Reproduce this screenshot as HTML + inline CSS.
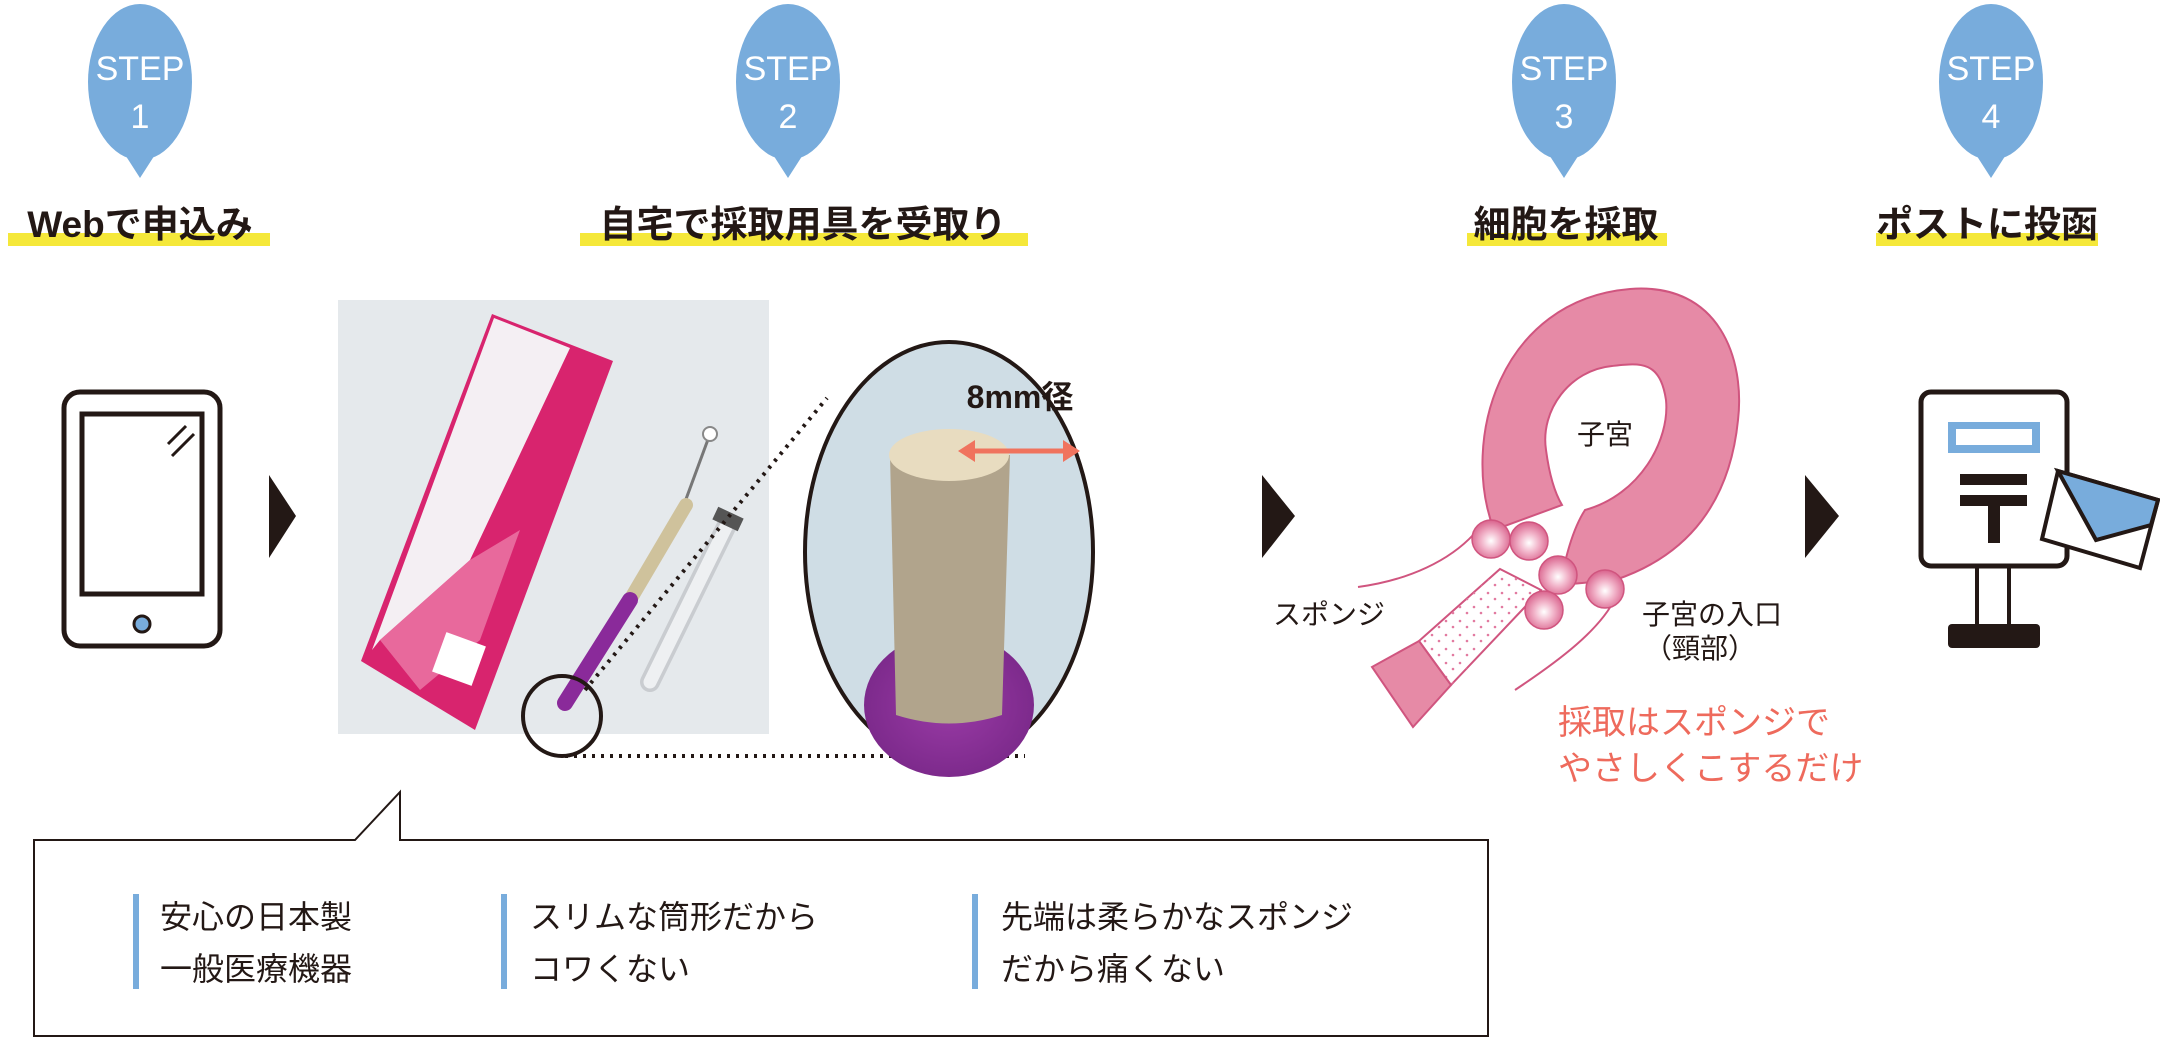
<!DOCTYPE html>
<html><head><meta charset="utf-8"><style>
html,body{margin:0;padding:0;background:#fff;}
svg{display:block;}
text{font-family:"Liberation Sans","Noto Sans CJK JP",sans-serif;}
</style></head><body>
<svg width="2160" height="1040" viewBox="0 0 2160 1040" xmlns="http://www.w3.org/2000/svg">
<defs>
<radialGradient id="ball" cx="50%" cy="55%" r="55%">
<stop offset="0" stop-color="#ffffff"/><stop offset="0.45" stop-color="#f2b6cb"/><stop offset="1" stop-color="#d9628c"/>
</radialGradient>
<radialGradient id="vio" cx="50%" cy="50%" r="50%">
<stop offset="0" stop-color="#9a3ba6"/><stop offset="1" stop-color="#7d2a8c"/>
</radialGradient>
<pattern id="dots" width="14" height="14" patternUnits="userSpaceOnUse"><circle cx="4" cy="5" r="1.3" fill="#e27aa0"/><circle cx="11" cy="11" r="1.3" fill="#e27aa0"/></pattern>
</defs>

<g fill="#78acdc">
<ellipse cx="140" cy="82" rx="52" ry="78"/><polygon points="122,150 158,150 140,178"/>
<ellipse cx="788" cy="82" rx="52" ry="78"/><polygon points="770,150 806,150 788,178"/>
<ellipse cx="1564" cy="82" rx="52" ry="78"/><polygon points="1546,150 1582,150 1564,178"/>
<ellipse cx="1991" cy="82" rx="52" ry="78"/><polygon points="1973,150 2009,150 1991,178"/>
</g>
<g fill="#fff" font-size="34" text-anchor="middle">
<text x="140" y="80">STEP</text><text x="140" y="128">1</text>
<text x="788" y="80">STEP</text><text x="788" y="128">2</text>
<text x="1564" y="80">STEP</text><text x="1564" y="128">3</text>
<text x="1991" y="80">STEP</text><text x="1991" y="128">4</text>
</g>

<g fill="#f5e83a">
<rect x="8" y="233" width="262" height="13"/>
<rect x="580" y="233" width="448" height="13"/>
<rect x="1467" y="233" width="200" height="13"/>
<rect x="1876" y="233" width="222" height="13"/>
</g>
<g fill="#231815" font-size="37" font-weight="bold" text-anchor="middle">
<text x="140" y="237">Webで申込み</text>
<text x="803" y="237">自宅で採取用具を受取り</text>
<text x="1566" y="237">細胞を採取</text>
<text x="1987" y="237">ポストに投函</text>
</g>

<rect x="64" y="392" width="156" height="254" rx="16" fill="#fff" stroke="#231815" stroke-width="5"/>
<rect x="82" y="414" width="120" height="180" fill="#fff" stroke="#231815" stroke-width="5"/>
<line x1="168" y1="444" x2="186" y2="426" stroke="#231815" stroke-width="3"/>
<line x1="172" y1="456" x2="194" y2="434" stroke="#231815" stroke-width="3"/>
<circle cx="142" cy="624" r="8" fill="#78acdc" stroke="#231815" stroke-width="3"/>

<g fill="#231815">
<polygon points="269,475 296,516 269,558"/>
<polygon points="1262,475 1295,516 1262,558"/>
<polygon points="1805,475 1839,516 1805,558"/>
</g>

<!-- photo -->
<rect x="338" y="300" width="431" height="434" fill="#e5e9ec"/>
<polygon points="492,314 613,361 475,730 361,661" fill="#d8246e"/>
<polygon points="494,318 570,348 470,560 380,640 372,650" fill="#f4eff3"/>
<polygon points="380,640 470,560 520,530 480,640 420,690" fill="#ec7aa8" opacity="0.8"/>
<rect x="438" y="638" width="42" height="42" fill="#fff" transform="rotate(20 459 659)"/>
<line x1="710" y1="434" x2="682" y2="510" stroke="#777" stroke-width="3"/>
<line x1="686" y1="505" x2="630" y2="600" stroke="#cfc29c" stroke-width="14" stroke-linecap="round"/>
<line x1="630" y1="600" x2="565" y2="703" stroke="#8a2a9a" stroke-width="16" stroke-linecap="round"/>
<circle cx="710" cy="434" r="7" fill="#fff" stroke="#888" stroke-width="2"/>
<line x1="727" y1="525" x2="650" y2="682" stroke="#c9ccd0" stroke-width="20" stroke-linecap="round"/>
<line x1="727" y1="525" x2="650" y2="682" stroke="#eef0f2" stroke-width="13" stroke-linecap="round"/>
<rect x="714" y="512" width="28" height="14" fill="#555" transform="rotate(25 728 519)"/>

<line x1="585" y1="690" x2="827" y2="398" stroke="#231815" stroke-width="4" stroke-dasharray="3,6"/>
<line x1="565" y1="756" x2="1025" y2="756" stroke="#231815" stroke-width="4" stroke-dasharray="3,6"/>
<ellipse cx="562" cy="716" rx="39" ry="40" fill="none" stroke="#231815" stroke-width="4"/>
<ellipse cx="949" cy="552" rx="144" ry="210" fill="#cfdde5" stroke="#231815" stroke-width="4"/>
<ellipse cx="949" cy="705" rx="85" ry="72" fill="url(#vio)"/>
<path d="M890,455 L1010,455 L1002,715 Q949,732 896,715 Z" fill="#b1a48c"/>
<ellipse cx="949" cy="455" rx="60" ry="26" fill="#e8dcc0"/>
<line x1="970" y1="451" x2="1068" y2="451" stroke="#f0735e" stroke-width="5"/>
<polygon points="958,451 975,440 975,462" fill="#f0735e"/>
<polygon points="1080,451 1063,440 1063,462" fill="#f0735e"/>
<text x="1020" y="408" font-size="32" font-weight="bold" fill="#231815" text-anchor="middle">8mm径</text>

<path fill-rule="evenodd" fill="#e68aa6" stroke="#d0557f" stroke-width="2" d="M1494,530 C1460,440 1500,300 1630,289 C1720,282 1745,360 1738,420 C1730,500 1690,555 1615,580 L1560,585 C1565,560 1572,530 1585,510 C1640,495 1670,440 1666,400 C1660,360 1640,363 1612,366 C1570,370 1540,410 1546,450 C1550,480 1556,495 1562,505 Z"/>
<path d="M1358,587 C1410,580 1450,560 1474,534" fill="none" stroke="#d0557f" stroke-width="2"/>
<path d="M1515,690 C1560,660 1600,630 1616,597" fill="none" stroke="#d0557f" stroke-width="2"/>
<polygon points="1500,569 1541,590 1451,685 1419,641" fill="#fff" stroke="#d0557f" stroke-width="2"/>
<polygon points="1500,569 1541,590 1451,685 1419,641" fill="url(#dots)"/>
<polygon points="1372,667 1419,641 1451,685 1413,727" fill="#e68aa6" stroke="#d0557f" stroke-width="2"/>
<g stroke="#d0557f" stroke-width="1.5" fill="url(#ball)">
<circle cx="1491" cy="539" r="19"/><circle cx="1529" cy="541" r="19"/>
<circle cx="1558" cy="575" r="19"/><circle cx="1605" cy="589" r="19"/><circle cx="1544" cy="610" r="19"/>
</g>
<g fill="#231815" font-size="28">
<text x="1605" y="444" text-anchor="middle">子宮</text>
<text x="1273" y="624">スポンジ</text>
<text x="1642" y="624">子宮の入口</text>
<text x="1644" y="658">（頸部）</text>
</g>
<g fill="#ee6a5c" font-size="34">
<text x="1558" y="734">採取はスポンジで</text>
<text x="1558" y="780">やさしくこするだけ</text>
</g>

<rect x="1977" y="560" width="32" height="68" fill="#fff" stroke="#231815" stroke-width="4"/>
<rect x="1921" y="392" width="146" height="174" rx="10" fill="#fff" stroke="#231815" stroke-width="5"/>
<rect x="1948" y="624" width="92" height="24" rx="4" fill="#231815"/>
<rect x="1948" y="422" width="92" height="31" fill="#78acdc"/>
<rect x="1956" y="429" width="76" height="16" fill="#fff"/>
<rect x="1960" y="474" width="67" height="11" fill="#231815"/>
<rect x="1960" y="495" width="67" height="11" fill="#231815"/>
<rect x="1988" y="505" width="12" height="38" fill="#231815"/>
<polygon points="2058,471 2158,500 2140,568 2042,539" fill="#fff" stroke="#231815" stroke-width="4"/>
<polygon points="2058,471 2158,500 2151,525 2096,540" fill="#78acdc" stroke="#231815" stroke-width="4"/>

<path d="M34,840 L355,840 L400,792 L400,840 L1488,840 L1488,1036 L34,1036 Z" fill="#fff" stroke="#231815" stroke-width="2"/>
<g fill="#78acdc">
<rect x="133" y="894" width="6" height="95"/>
<rect x="501" y="894" width="6" height="95"/>
<rect x="972" y="894" width="6" height="95"/>
</g>
<g fill="#231815" font-size="32">
<text x="160" y="928">安心の日本製</text><text x="160" y="980">一般医療機器</text>
<text x="530" y="928">スリムな筒形だから</text><text x="530" y="980">コワくない</text>
<text x="1001" y="928">先端は柔らかなスポンジ</text><text x="1001" y="980">だから痛くない</text>
</g>
</svg>
</body></html>
